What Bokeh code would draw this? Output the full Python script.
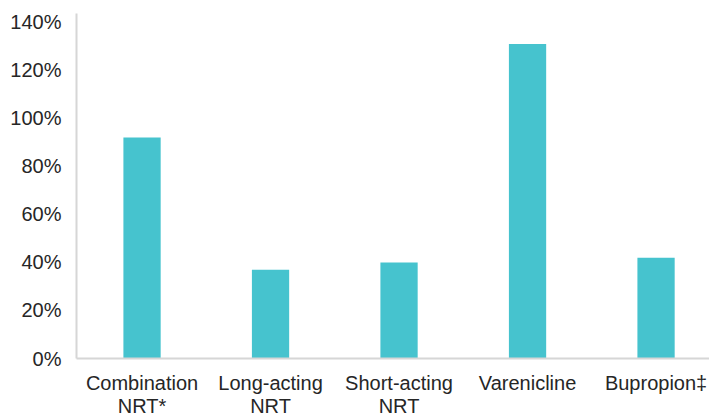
from bokeh.plotting import figure
from bokeh.models import Range1d, FixedTicker, PrintfTickFormatter
from bokeh.embed import file_html
from bokeh.resources import INLINE

categories = ["Combination\nNRT*", "Long-acting\nNRT", "Short-acting\nNRT", "Varenicline", "Bupropion\u2021"]
values = [92, 37, 40, 131, 42]
y_ticks = [0, 20, 40, 60, 80, 100, 120, 140]

xs = list(range(len(categories)))

p = figure(width=709, height=419, output_backend="svg", toolbar_location=None,
           x_range=Range1d(-0.51, 4.416), y_range=Range1d(0, 143.7),
           min_border_left=76, min_border_right=0, min_border_top=13, min_border_bottom=60)
p.background_fill_color = None
p.border_fill_color = "white"
p.outline_line_color = None
p.grid.visible = False

p.vbar(x=xs, top=values, width=0.29, bottom=0, color="#46C3CE", line_color=None)

TEXT = "#262626"
FONT = "Liberation Sans"

p.xaxis.ticker = FixedTicker(ticks=xs)
p.xaxis.major_label_overrides = {i: c for i, c in enumerate(categories)}
p.yaxis.ticker = FixedTicker(ticks=y_ticks)
p.yaxis.formatter = PrintfTickFormatter(format="%d%%")

for ax in (p.xaxis[0], p.yaxis[0]):
    ax.axis_line_color = "#D6D6D6"
    ax.axis_line_width = 2
    ax.major_tick_line_color = None
    ax.minor_tick_line_color = None
    ax.major_tick_out = 0
    ax.major_tick_in = 0
    ax.major_label_text_font = FONT
    ax.major_label_text_font_size = "20px"
    ax.major_label_text_color = TEXT

p.yaxis.major_label_standoff = 15
p.xaxis.major_label_standoff = 13
p.xaxis.major_label_text_line_height = 1.05

open("out.html", "w").write(file_html(p, INLINE))
